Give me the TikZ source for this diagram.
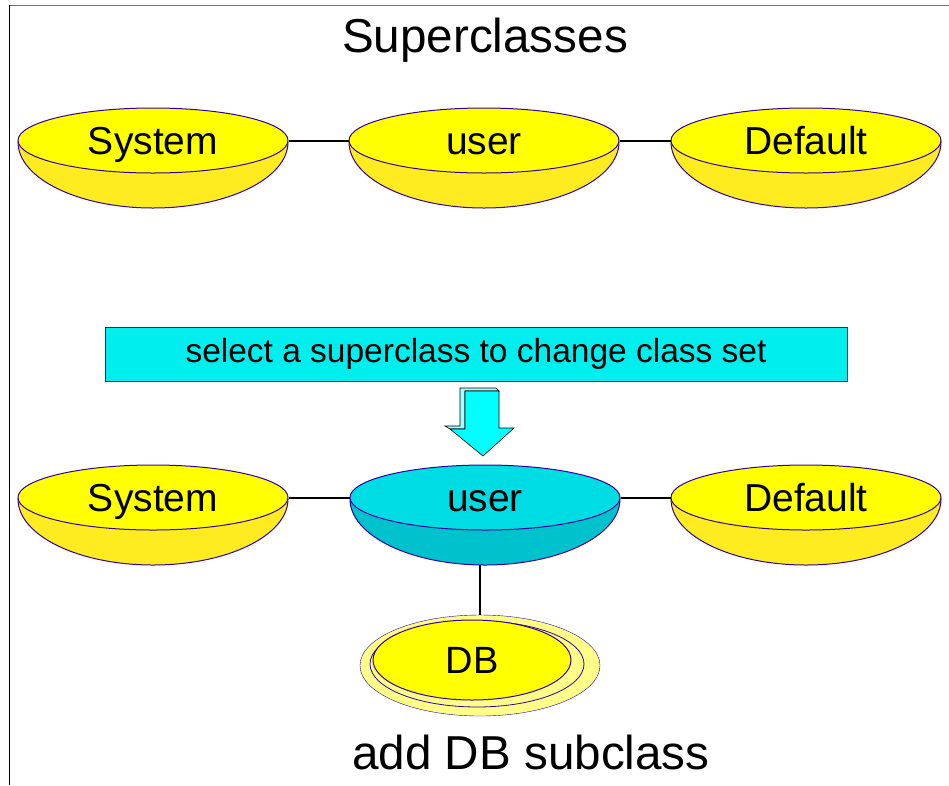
\documentclass[tikz,border=0pt]{standalone}
\usepackage{fontspec}
\setmainfont{Liberation Sans}
\usetikzlibrary{shapes.geometric}

\definecolor{rim}{HTML}{330099}
\definecolor{yeltop}{HTML}{FFFF00}
\definecolor{yelbase}{HTML}{FFEC20}
\definecolor{cyantop}{HTML}{00DCE4}
\definecolor{cyanbase}{HTML}{00C2CC}
\definecolor{boxcyan}{HTML}{00EEEE}
\definecolor{arrowfront}{HTML}{00FFFF}
\definecolor{arrowside}{HTML}{A0FFFF}
\definecolor{paleyel}{HTML}{FFFF88}

% lower half of a bowl, drawn before its top
\newcommand{\bowlbase}[3]{\filldraw[draw=rim,line width=1pt,fill=#3] (#1-135,#2) arc[start angle=180,end angle=360,x radius=135pt,y radius=66pt] -- cycle;}

\tikzset{
  bowltop/.style={ellipse,draw=rim,line width=1pt,fill=yeltop,minimum width=270pt,minimum height=65pt,inner sep=0pt,text height=28pt,text depth=0pt,font=\fontsize{39}{39}\selectfont},
  link/.style={black,line width=2pt},
  selbox/.style={rectangle,draw=black!80,fill=boxcyan,line width=1pt,minimum width=742pt,minimum height=54pt,inner sep=0pt,font=\fontsize{33.5}{33.5}\selectfont},
  bigtext/.style={font=\fontsize{47.6}{47.6}\selectfont,inner sep=0pt}
}

\begin{document}
\begin{tikzpicture}[x=1pt,y=1pt]
\useasboundingbox (0,0) rectangle (949,-785);

% frame
\draw[black!55,line width=1pt] (9.5,-5) -- (949,-5);
\draw[black,line width=1.2pt] (9.5,-5) -- (9.5,-785);

\node[bigtext] (title) at (485,-40) {Superclasses};

% first row
\bowlbase{153}{-142}{yelbase}
\bowlbase{484}{-142}{yelbase}
\bowlbase{806}{-142}{yelbase}
\node[bowltop] (sys1) at (153,-140.5) {System};
\node[bowltop] (usr1) at (484,-140.5) {user};
\node[bowltop] (def1) at (806,-140.5) {Default};
\draw[link] (sys1.east) -- (usr1.west);
\draw[link] (usr1.east) -- (def1.west);

\node[selbox] (sel) at (476,-354) {select a superclass to change class set};

% block arrow
\filldraw[fill=arrowside,draw=black,line width=0.6pt] (460,-388) -- (496,-388) -- (499,-391) -- (465,-391) -- (465,-429) -- (450,-429) -- (445,-426) -- (460,-426) -- cycle;
\filldraw[fill=arrowfront,draw=black,line width=0.6pt] (465,-391) -- (499,-391) -- (499,-428) -- (514,-428) -- (483,-456) -- (450,-429) -- (465,-429) -- cycle;

% second row
\coordinate (usr2b) at (480,-563);
\node[ellipse,draw=rim,fill=paleyel,minimum width=240pt,minimum height=101pt] (dbring) at (480,-665.5) {};
\draw[link] (usr2b) -- (dbring.north);
\node[ellipse,draw=rim,line width=0.8pt,minimum width=214pt,minimum height=86pt] (dbring2) at (477,-664) {};
\node[bowltop,minimum width=198pt,minimum height=80pt,text height=27pt,font=\fontsize{38}{38}\selectfont] (db) at (472,-660) {DB};

\bowlbase{153}{-499}{yelbase}
\bowlbase{485}{-499}{cyanbase}
\bowlbase{806}{-499}{yelbase}
\node[bowltop] (sys2) at (153,-497.5) {System};
\node[bowltop,fill=cyantop] (usr2) at (485,-497.5) {user};
\node[bowltop] (def2) at (806,-497.5) {Default};
\draw[link] (sys2.east) -- (usr2.west);
\draw[link] (usr2.east) -- (def2.west);

\node[bigtext] (caption) at (531,-752) {add DB subclass};
\end{tikzpicture}
\end{document}
